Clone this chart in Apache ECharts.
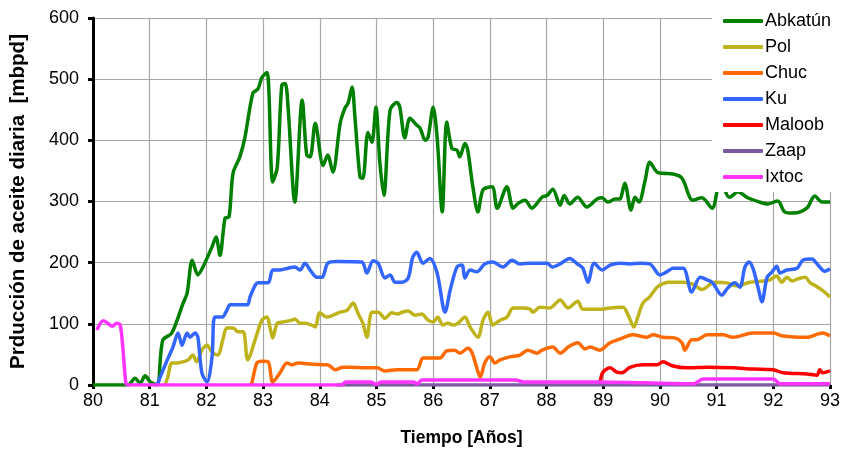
<!DOCTYPE html>
<html>
<head>
<meta charset="utf-8">
<script src="https://cdn.jsdelivr.net/npm/echarts@6/dist/echarts.min.js"></script>
<style>html,body{margin:0;padding:0;background:#fff;}#c{width:846px;height:452px;}</style>
</head>
<body>
<div id="c"></div>
<script>
// Tick labels
var xTicks = [80,81,82,83,84,85,86,87,88,89,90,91,92,93];
var yTicks = [0,100,200,300,400,500,600];
var seriesNames = ['Abkatún','Pol','Chuc','Ku','Maloob','Zaap','Ixtoc'];

// [year, mbpd]
var abkatun = [[80.00,0],[80.62,0],[80.74,11],[80.83,3],[80.92,15],[81.01,5],[81.13,0],[81.23,73],[81.39,85],[81.59,134],[81.66,150],[81.75,204],[81.85,180],[81.94,193],[82.10,226],[82.17,242],[82.24,212],[82.33,273],[82.40,275],[82.47,346],[82.59,373],[82.68,405],[82.82,477],[82.91,484],[82.98,503],[83.07,511],[83.17,332],[83.25,356],[83.33,490],[83.39,493],[83.44,455],[83.56,299],[83.69,466],[83.77,376],[83.83,373],[83.92,428],[84.06,359],[84.14,376],[84.23,348],[84.36,428],[84.44,452],[84.50,461],[84.57,487],[84.62,438],[84.71,340],[84.76,338],[84.85,413],[84.92,397],[84.99,454],[85.06,363],[85.13,310],[85.24,449],[85.36,462],[85.41,455],[85.50,404],[85.59,436],[85.71,425],[85.77,420],[85.86,400],[85.91,405],[86.00,454],[86.07,405],[86.16,283],[86.24,430],[86.33,387],[86.42,384],[86.47,373],[86.56,395],[86.61,384],[86.70,324],[86.79,283],[86.88,319],[87.04,324],[87.13,289],[87.30,324],[87.41,289],[87.50,297],[87.62,302],[87.74,289],[87.92,307],[88.01,310],[88.11,320],[88.24,294],[88.31,310],[88.41,296],[88.55,307],[88.71,291],[88.89,304],[88.98,306],[89.08,299],[89.21,304],[89.29,304],[89.38,330],[89.49,286],[89.56,307],[89.63,299],[89.74,335],[89.82,364],[89.95,348],[90.05,346],[90.23,345],[90.39,338],[90.58,302],[90.74,306],[90.92,289],[91.01,318],[91.08,350],[91.15,318],[91.23,307],[91.38,316],[91.53,307],[91.76,299],[91.90,296],[92.08,301],[92.20,283],[92.35,281],[92.59,289],[92.73,309],[92.86,299],[93.00,299]];

var pol = [[81.27,0],[81.32,13],[81.39,36],[81.48,36],[81.59,38],[81.68,41],[81.76,49],[81.83,38],[81.92,57],[82.01,65],[82.10,54],[82.20,49],[82.29,74],[82.36,93],[82.47,93],[82.56,87],[82.65,87],[82.73,41],[82.86,74],[82.98,106],[83.07,111],[83.12,95],[83.17,77],[83.25,101],[83.35,103],[83.51,106],[83.56,108],[83.65,101],[83.74,101],[83.86,98],[83.92,95],[84.00,118],[84.13,111],[84.23,114],[84.36,119],[84.48,122],[84.59,134],[84.67,118],[84.76,101],[84.83,78],[84.92,119],[85.03,119],[85.15,109],[85.27,118],[85.38,116],[85.45,119],[85.56,121],[85.68,114],[85.80,116],[85.91,106],[86.00,103],[86.08,111],[86.17,98],[86.26,101],[86.35,98],[86.44,101],[86.56,111],[86.65,95],[86.79,78],[86.88,106],[86.97,119],[87.05,98],[87.18,106],[87.30,111],[87.41,126],[87.58,126],[87.71,124],[87.76,119],[87.88,127],[88.06,126],[88.24,139],[88.38,126],[88.55,137],[88.64,124],[88.98,124],[89.12,126],[89.35,127],[89.44,114],[89.54,95],[89.61,111],[89.70,134],[89.82,144],[89.95,160],[90.04,165],[90.14,168],[90.41,168],[90.58,165],[90.74,156],[90.92,167],[90.97,168],[91.18,167],[91.36,162],[91.59,168],[91.82,170],[91.94,172],[92.06,178],[92.15,168],[92.24,176],[92.33,170],[92.42,173],[92.56,176],[92.65,167],[92.73,163],[92.86,155],[93.00,144]];

var chuc = [[82.77,0],[82.80,3],[82.89,36],[82.98,39],[83.09,38],[83.17,5],[83.30,20],[83.42,36],[83.51,33],[83.62,36],[83.88,34],[84.13,33],[84.18,31],[84.27,25],[84.41,29],[84.53,29],[84.83,28],[85.01,28],[85.15,23],[85.36,25],[85.71,25],[85.82,44],[85.94,44],[86.12,44],[86.24,56],[86.38,57],[86.47,52],[86.61,60],[86.68,54],[86.77,28],[86.83,13],[86.91,36],[87.00,46],[87.09,36],[87.18,41],[87.35,46],[87.53,49],[87.67,57],[87.83,52],[87.92,57],[88.11,62],[88.24,52],[88.38,62],[88.55,69],[88.68,59],[88.77,62],[88.94,57],[89.12,69],[89.29,75],[89.52,82],[89.77,78],[89.88,82],[90.05,78],[90.26,77],[90.39,69],[90.44,57],[90.56,74],[90.65,74],[90.83,82],[91.11,82],[91.29,78],[91.64,85],[92.00,85],[92.17,80],[92.59,78],[92.87,85],[93.00,80]];

var ku = [[81.13,0],[81.31,41],[81.41,62],[81.50,85],[81.57,65],[81.66,85],[81.71,78],[81.80,85],[81.85,78],[81.92,20],[82.01,5],[82.10,46],[82.15,111],[82.28,111],[82.36,122],[82.42,131],[82.72,131],[82.77,144],[82.86,163],[82.91,167],[83.09,167],[83.17,188],[83.30,188],[83.44,191],[83.56,193],[83.65,188],[83.74,199],[83.83,188],[83.95,176],[84.04,176],[84.14,199],[84.30,202],[84.74,201],[84.83,183],[84.94,203],[85.03,199],[85.15,175],[85.24,180],[85.33,168],[85.45,168],[85.56,175],[85.64,209],[85.71,217],[85.82,199],[85.94,207],[86.07,183],[86.21,119],[86.30,155],[86.42,193],[86.51,196],[86.56,175],[86.65,188],[86.77,185],[86.91,198],[87.05,201],[87.23,193],[87.39,204],[87.53,198],[87.71,199],[88.01,199],[88.10,193],[88.24,198],[88.41,207],[88.54,198],[88.64,191],[88.73,168],[88.84,199],[88.98,188],[89.12,196],[89.29,199],[89.47,198],[89.65,199],[89.82,198],[90.00,180],[90.12,185],[90.23,191],[90.41,191],[90.56,152],[90.71,176],[90.83,172],[90.93,167],[91.09,147],[91.20,159],[91.32,167],[91.41,160],[91.50,193],[91.57,201],[91.64,191],[91.73,160],[91.80,136],[91.89,176],[91.98,185],[92.06,194],[92.12,183],[92.24,188],[92.42,191],[92.52,204],[92.68,206],[92.79,196],[92.91,186],[93.00,190]];

var maloob = [[88.94,0],[88.99,20],[89.12,28],[89.24,21],[89.33,20],[89.47,29],[89.70,33],[89.95,33],[90.05,38],[90.23,31],[90.48,28],[90.83,29],[91.29,28],[91.64,26],[92.00,25],[92.17,20],[92.59,18],[92.77,16],[92.82,25],[92.87,20],[93.00,23]];

var zaap = [[84.30,0],[93.00,0]];

var ixtoc = [[80.07,90],[80.18,105],[80.26,101],[80.34,96],[80.42,101],[80.48,98],[80.53,57],[80.58,3],[80.62,0],[84.38,0],[84.46,5],[84.90,5],[85.00,1],[85.08,5],[85.65,5],[85.72,2],[85.80,8],[87.45,8],[87.60,5],[88.95,5],[90.50,2],[90.60,2],[90.76,10],[92.00,10],[92.12,2],[93.00,2]];

var colors = ['#008000','#BFB31B','#FF6A00','#3366FF','#FF0000','#7A5C9E','#FF33FF'];
var allData = [abkatun, pol, chuc, ku, maloob, zaap, ixtoc];

var FONT = "'Liberation Sans', Arial, sans-serif";
var chart = echarts.init(document.getElementById('c'), null, {renderer:'canvas'});
var series = seriesNames.map(function(n,i){
  return {
    name: n, type: 'line', data: allData[i], showSymbol: false, symbol: 'none',
    smooth: 0.3, lineStyle: {width: 3.5, color: colors[i]}, itemStyle: {color: colors[i]},
    animation: false, z: 2
  };
});

chart.setOption({
  animation: false,
  backgroundColor: '#fff',
  textStyle: {fontFamily: FONT},
  grid: {left: 93, right: 16, top: 18, bottom: 67, containLabel: false, outerBoundsMode: 'none'},
  legend: {
    orient: 'vertical', left: 712, top: 5,
    padding: [7, 20, 6, 11],
    backgroundColor: '#fff',
    itemWidth: 40, itemHeight: 4, itemGap: 8,
    icon: 'roundRect',
    textStyle: {fontSize: 18, color: '#000', fontFamily: FONT, padding: [0,0,0,-3]},
    data: seriesNames,
    z: 10
  },
  xAxis: {
    type: 'value', min: xTicks[0], max: xTicks[xTicks.length-1], interval: 1,
    name: 'Tiempo [Años]', nameLocation: 'middle', nameGap: 44,
    nameTextStyle: {fontSize: 17.5, fontWeight: 'bold', color: '#000', fontFamily: FONT},
    axisLine: {show: true, onZero: false, lineStyle: {color: '#000', width: 1.5}},
    axisTick: {show: true, length: 4, lineStyle: {color: '#000', width: 3}},
    axisLabel: {fontSize: 18, color: '#000', margin: 7, fontFamily: FONT},
    splitLine: {show: true, lineStyle: {color: '#A6A6A6', width: 1.2}}
  },
  yAxis: {
    type: 'value', min: yTicks[0], max: yTicks[yTicks.length-1], interval: 100,
    name: 'Prducción de aceite diaria  [mbpd]', nameLocation: 'middle', nameGap: 64,
    nameTextStyle: {fontSize: 20.5, fontWeight: 'bold', color: '#000', fontFamily: FONT},
    axisLine: {show: true, lineStyle: {color: '#000', width: 3}},
    axisTick: {show: true, length: 5, lineStyle: {color: '#000', width: 3}},
    axisLabel: {fontSize: 18, color: '#000', margin: 14, fontFamily: FONT},
    splitLine: {show: true, lineStyle: {color: '#A6A6A6', width: 1.2}}
  },
  series: series
});
</script>
</body>
</html>
